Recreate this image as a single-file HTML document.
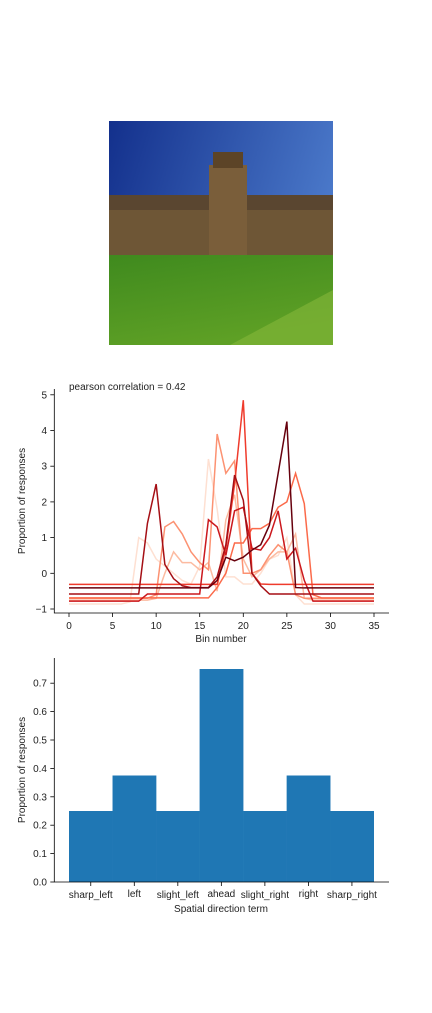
<!DOCTYPE html>
<html><head><meta charset="utf-8"><style>
body{margin:0;background:#fff;width:432px;height:1008px;overflow:hidden;font-family:"Liberation Sans","DejaVu Sans",sans-serif}
svg text{font-family:"Liberation Sans","DejaVu Sans",sans-serif;fill:#222}
</style></head><body>
<svg width="432" height="1008">
<defs>
<linearGradient id="sky" x1="0" y1="0" x2="1" y2="0.3"><stop offset="0" stop-color="#13308c"/><stop offset="1" stop-color="#4a78c9"/></linearGradient>
<linearGradient id="grass" x1="0" y1="0" x2="0.4" y2="1"><stop offset="0" stop-color="#3f8a1e"/><stop offset="1" stop-color="#5ea025"/></linearGradient>
</defs>
<g>
<rect x="109" y="121" width="224" height="224" fill="url(#sky)"/>
<rect x="109" y="205" width="224" height="50" fill="#6e5636"/>
<rect x="209" y="165" width="38" height="90" fill="#7a5e3a"/>
<rect x="213" y="152" width="30" height="16" fill="#5c4427"/>
<rect x="109" y="195" width="100" height="15" fill="#5a4630"/>
<rect x="247" y="195" width="86" height="15" fill="#5a4630"/>
<rect x="109" y="255" width="224" height="90" fill="url(#grass)"/>
<polygon points="230,345 333,290 333,345" fill="#86b83a" opacity="0.6"/>
</g>
<g id="line-chart"></g>
<g id="bar-chart"></g>
</svg>
<script>
const NS="http://www.w3.org/2000/svg";
function mk(p,t,a){const e=document.createElementNS(NS,t);for(const k in a)e.setAttribute(k,a[k]);p.appendChild(e);return e;}
function fill(v,n){return Array(n).fill(v);}
// ---- line chart data ----
const bins=[...Array(36).keys()];
const lineColors=["#fee0d2","#fcbba1","#fc9272","#fb6a4a","#ef3b2c","#cb181d","#a50f15","#67000d"];
const seriesH=[...fill(-0.86,7),-0.8,1.0,0.85,0.4,0.2,0.0,-0.2,-0.3,0.2,3.2,1.8,-0.1,-0.1,-0.3,-0.3,0.0,0.4,0.5,1.0,-0.6,...fill(-0.86,9)];
const seriesG=[...fill(-0.75,10),-0.7,0.0,0.6,0.3,0.3,0.1,0.3,-0.5,1.5,2.2,0.4,-0.1,0.1,0.4,0.6,0.6,1.1,-0.7,...fill(-0.75,8)];
const seriesF=[...fill(-0.7,10),-0.6,1.3,1.45,1.1,0.6,0.3,0.1,3.9,2.8,3.15,0.0,0.0,0.1,0.5,0.8,0.6,-0.6,...fill(-0.7,9)];
const seriesE=[...fill(-0.69,16),-0.69,-0.4,0.0,0.85,0.85,1.25,1.25,1.4,1.85,2.0,2.8,1.95,-0.6,...fill(-0.69,7)];
const seriesA=[...fill(-0.31,17),-0.31,0.7,2.5,4.85,0.0,-0.3,...fill(-0.31,13)];
const seriesD=[...fill(-0.78,8),-0.78,...fill(-0.58,7),1.5,1.3,0.5,1.75,1.85,0.7,0.65,1.0,1.75,0.4,0.7,-0.2,-0.78,...fill(-0.78,7)];
const seriesC=[...fill(-0.58,9),1.4,2.5,0.25,-0.15,-0.35,-0.4,-0.4,-0.4,-0.1,0.8,2.75,2.05,0.0,-0.35,...fill(-0.58,13)];
const seriesB=[...fill(-0.41,17),-0.2,0.45,0.35,0.45,0.65,0.8,1.35,2.8,4.25,-0.4,...fill(-0.41,9)];
const allSeries=[seriesH,seriesG,seriesF,seriesE,seriesA,seriesD,seriesC,seriesB];
const xTicks=[0,5,10,15,20,25,30,35];
const yTicks=[-1,0,1,2,3,4,5];
(function(){
 const g=document.getElementById('line-chart');
 const X=v=>69+v*(374-69)/35, Y=v=>573.3-v*35.7;
 allSeries.forEach((s,i)=>{
  const p=mk(g,'polyline',{points:s.map((v,j)=>X(bins[j])+','+Y(v)).join(' '),fill:'none',stroke:lineColors[i],'stroke-width':1.5});
  
  
 });
 const ax=mk(g,'path',{d:'M54.3,389 V613 H389',fill:'none',stroke:'#000','stroke-width':0.8});
 
 
 xTicks.forEach(t=>{mk(g,'line',{x1:X(t),x2:X(t),y1:613,y2:617,stroke:'#000','stroke-width':0.8});
  const tx=mk(g,'text',{x:X(t),y:629,'font-size':10,'text-anchor':'middle'});tx.textContent=t;
  
  });
 yTicks.forEach(t=>{mk(g,'line',{x1:50.3,x2:54.3,y1:Y(t),y2:Y(t),stroke:'#000','stroke-width':0.8});
  const tx=mk(g,'text',{x:47,y:Y(t)+3.5,'font-size':10,'text-anchor':'end'});tx.textContent=t<0?'\u2212'+(-t):t;
  
  });
 let t=mk(g,'text',{x:221,y:642,'font-size':10,'text-anchor':'middle'});t.textContent='Bin number';
 
 
 t=mk(g,'text',{x:25,y:501,'font-size':10,'text-anchor':'middle',transform:'rotate(-90 25 501)'});t.textContent='Proportion of responses';
 
 
 t=mk(g,'text',{x:69,y:390,'font-size':10});t.textContent='pearson correlation = 0.42';
 
 
})();
// ---- bar chart data ----
const categories=["sharp_left","left","slight_left","ahead","slight_right","right","sharp_right"];
const barValues=[0.25,0.375,0.25,0.75,0.25,0.375,0.25];
const barTicks=[0.0,0.1,0.2,0.3,0.4,0.5,0.6,0.7];
(function(){
 const g=document.getElementById('bar-chart');
 const bw=(373.7-69)/categories.length;
 const Y=v=>882-v*284;
 categories.forEach((c,i)=>{
  const r=mk(g,'rect',{x:69+i*bw,y:Y(barValues[i]),width:bw+0.3,height:882-Y(barValues[i]),fill:'#1f77b4'});
  
  
  const cx=69+(i+0.5)*bw;
  mk(g,'line',{x1:cx,x2:cx,y1:882,y2:886,stroke:'#000','stroke-width':0.8});
  const tx=mk(g,'text',{x:cx,y:898-(i%2?1:0),'font-size':10,'text-anchor':'middle'});tx.textContent=c;
  
  
 });
 const ax=mk(g,'path',{d:'M54.3,658 V882 H389',fill:'none',stroke:'#000','stroke-width':0.8});
 
 
 barTicks.forEach(t=>{mk(g,'line',{x1:50.3,x2:54.3,y1:Y(t),y2:Y(t),stroke:'#000','stroke-width':0.8});
  const tx=mk(g,'text',{x:47,y:Y(t)+3.5,'font-size':10,'text-anchor':'end'});tx.textContent=t.toFixed(1);
  
  });
 let t=mk(g,'text',{x:221,y:912,'font-size':10,'text-anchor':'middle'});t.textContent='Spatial direction term';
 
 
 t=mk(g,'text',{x:25,y:770,'font-size':10,'text-anchor':'middle',transform:'rotate(-90 25 770)'});t.textContent='Proportion of responses';
 
 
})();
</script>
</body></html>
